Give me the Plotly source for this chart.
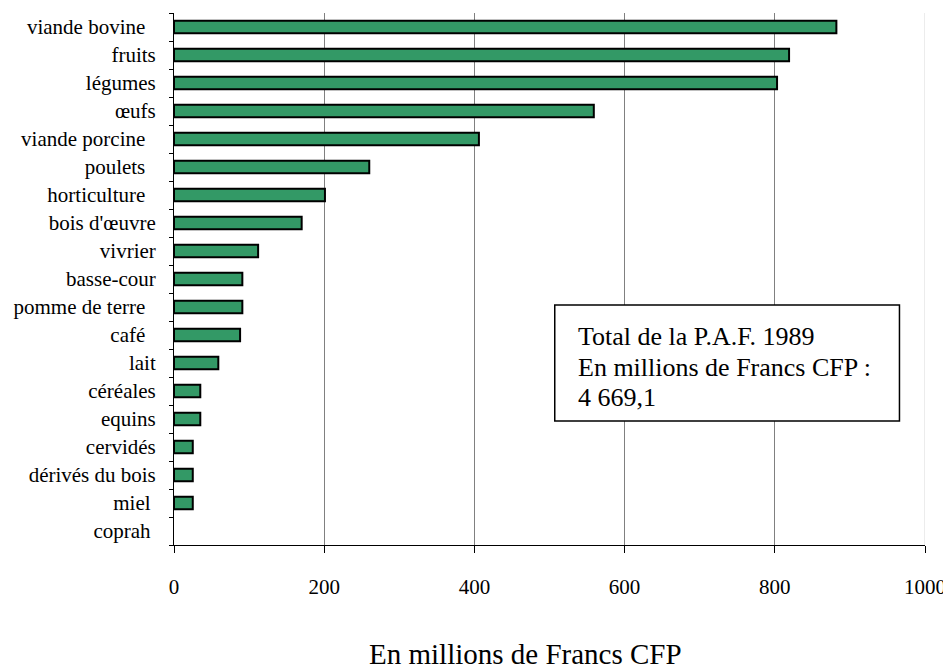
import plotly.graph_objects as go

# production agricole finale 1989, en millions de Francs CFP
categories = ["viande bovine", "fruits", "légumes", "œufs", "viande porcine",
              "poulets", "horticulture", "bois d'œuvre", "vivrier", "basse-cour",
              "pomme de terre", "café", "lait", "céréales", "equins", "cervidés",
              "dérivés du bois", "miel", "coprah"]
values = [882, 819, 803, 559, 406, 260, 201, 170, 112, 91, 91, 88, 59, 35, 35,
          25, 25, 25, 0]
# labels as typed in the source sheet (some with trailing spaces)
tick_labels = ["viande bovine\u00a0\u00a0", "fruits", "légumes", "œufs",
               "viande porcine\u00a0\u00a0", "poulets\u00a0\u00a0",
               "horticulture\u00a0\u00a0", "bois d'œuvre", "vivrier", "basse-cour",
               "pomme de terre\u00a0\u00a0", "café\u00a0\u00a0", "lait", "céréales",
               "equins", "cervidés", "dérivés du bois", "miel\u00a0", "coprah\u00a0"]
x_ticks = [0, 200, 400, 600, 800, 1000]
box_lines = ["Total de la P.A.F. 1989", "En millions de Francs CFP :", "4 669,1"]

serif = "Liberation Serif, Times New Roman, serif"

# no outline drawn for an empty bar (coprah)
outline = [2 if v > 0 else 0 for v in values]

fig = go.Figure(go.Bar(
    x=values, y=categories, orientation="h",
    width=0.45,
    marker=dict(color="#339966", line=dict(color="black", width=outline)),
))

# page body adds an 8px margin, so the figure is 8px smaller than the window
fig.update_layout(
    width=943, height=661,
    margin=dict(l=166, r=22, t=5, b=124),
    plot_bgcolor="white", paper_bgcolor="white",
    showlegend=False,
    font=dict(family=serif, size=21, color="black"),
)

fig.update_xaxes(
    range=[0, 1000], tickvals=x_ticks,
    showgrid=True, gridcolor="#808080", gridwidth=1,
    showline=True, linecolor="black", linewidth=1,
    ticks="outside", ticklen=7, tickcolor="black",
    ticklabelstandoff=16, zeroline=False,
    tickfont=dict(family=serif, size=21),
)
fig.update_yaxes(
    categoryorder="array", categoryarray=categories,
    autorange="reversed",
    tickmode="array", tickvals=categories, ticktext=tick_labels,
    tickson="boundaries",
    showline=True, linecolor="black", linewidth=1,
    ticks="outside", ticklen=4, tickcolor="black",
    ticklabelstandoff=13, showgrid=False,
    tickfont=dict(family=serif, size=21),
)

# pale last gridline at 1000
fig.add_shape(type="line", xref="x", yref="paper", x0=1000, x1=1000, y0=0, y1=1,
              line=dict(color="#d9d9d9", width=1))

# text box
fig.add_shape(type="rect", xref="paper", yref="paper",
              x0=0.507, x1=0.966, y0=0.233, y1=0.451,
              line=dict(color="black", width=1.5), fillcolor="white", layer="above")
for i, line in enumerate(box_lines):
    fig.add_annotation(text=line, xref="paper", yref="paper",
                       x=0.535, y=0.391 - i * 0.0565,
                       xanchor="left", yanchor="middle", showarrow=False,
                       font=dict(family=serif, size=26, color="black"))

# axis title
fig.add_annotation(text="En millions de Francs CFP", xref="paper", yref="paper",
                   x=0.4675, y=-0.205, xanchor="center", yanchor="middle",
                   showarrow=False, font=dict(family=serif, size=29, color="black"))

fig.write_html("out.html")
